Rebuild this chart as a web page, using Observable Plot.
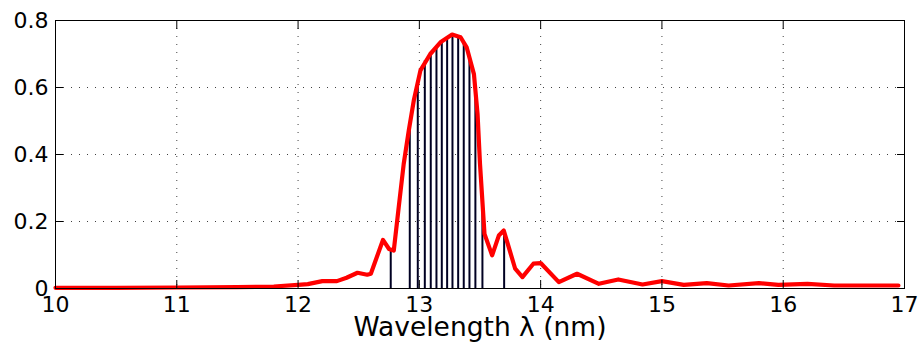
<!DOCTYPE html>
<html>
<head>
<meta charset="utf-8">
<script src="https://cdn.jsdelivr.net/npm/d3@7"></script>
<script src="https://cdn.jsdelivr.net/npm/@observablehq/plot@0.6"></script>
<style>
  html, body { margin: 0; padding: 0; background: #fff; }
  svg { font-family: "DejaVu Sans", sans-serif; }
</style>
</head>
<body>
<div id="chart"></div>
<script>
// Red spectrum curve (wavelength in nm, intensity)
const wavelength = [10, 10.5, 11, 11.5, 11.8, 12.0, 12.08, 12.2, 12.32, 12.4, 12.49, 12.57, 12.6, 12.7, 12.75, 12.789, 12.83, 12.871, 12.913, 12.954, 13.009, 13.09, 13.174, 13.27, 13.34, 13.39, 13.45, 13.48, 13.50, 13.537, 13.60, 13.655, 13.696, 13.79, 13.85, 13.94, 14.0, 14.15, 14.3, 14.48, 14.64, 14.84, 15.0, 15.18, 15.37, 15.55, 15.8, 15.96, 16.2, 16.42, 16.64, 16.95];
const intensity  = [0.002, 0.002, 0.003, 0.004, 0.006, 0.011, 0.013, 0.022, 0.022, 0.032, 0.047, 0.041, 0.044, 0.145, 0.118, 0.113, 0.243, 0.372, 0.472, 0.561, 0.651, 0.70, 0.735, 0.758, 0.75, 0.72, 0.64, 0.52, 0.372, 0.163, 0.099, 0.158, 0.173, 0.059, 0.034, 0.074, 0.076, 0.019, 0.044, 0.014, 0.027, 0.012, 0.022, 0.011, 0.016, 0.009, 0.016, 0.011, 0.014, 0.009, 0.009, 0.009];

// Black stems (line positions and heights)
const stemWavelength = [12.764, 12.921, 12.987, 13.045, 13.094, 13.141, 13.185, 13.229, 13.273, 13.320, 13.366, 13.413, 13.462, 13.520, 13.699];
const stemHeight     = [0.118, 0.49, 0.62, 0.68, 0.70, 0.72, 0.74, 0.75, 0.755, 0.75, 0.735, 0.69, 0.60, 0.26, 0.17];

const xTicks = [10, 11, 12, 13, 14, 15, 16, 17];
const xTickLabels = ["10", "11", "12", "13", "14", "15", "16", "17"];
const yTicks = [0, 0.2, 0.4, 0.6, 0.8];
const yTickLabels = ["0", "0.2", "0.4", "0.6", "0.8"];
const xLabel = "Wavelength λ (nm)";

const curve = wavelength.map((w, i) => ({w, v: intensity[i]}));
const stems = stemWavelength.map((w, i) => ({w, v: stemHeight[i]}));

const chart = Plot.plot({
  width: 920,
  height: 353,
  marginLeft: 55,
  marginRight: 16,
  marginTop: 20,
  marginBottom: 65,
  style: {fontFamily: "'DejaVu Sans', sans-serif", fontSize: "22px", color: "#000", background: "#fff"},
  x: {domain: [10, 17]},
  y: {domain: [0, 0.8]},
  marks: [
    Plot.gridX(xTicks.slice(1, -1), {stroke: "#000", strokeOpacity: 0.75, strokeDasharray: "1,7"}),
    Plot.gridY(yTicks.slice(1, -1), {stroke: "#000", strokeOpacity: 0.75, strokeDasharray: "1,7"}),
    Plot.ruleX(stems, {x: "w", y1: 0, y2: "v", stroke: "#000022", strokeWidth: 2}),
    Plot.line(curve, {x: "w", y: "v", stroke: "#ff0000", strokeWidth: 4.2, strokeLinejoin: "round", curve: "linear"}),
    Plot.frame({stroke: "#000", strokeWidth: 1}),
    Plot.axisX(xTicks, {anchor: "bottom", tickSize: 0, tickPadding: 8, fontSize: 22, tickFormat: (d, i) => xTickLabels[i], label: null}),
    Plot.axisX(xTicks, {anchor: "bottom", tickSize: -8, text: null, label: null}),
    Plot.axisX(xTicks, {anchor: "top", tickSize: -8, text: null, label: null}),
    Plot.axisY(yTicks, {anchor: "left", tickSize: 0, tickPadding: 7, fontSize: 22, tickFormat: (d, i) => yTickLabels[i], label: null}),
    Plot.axisY(yTicks, {anchor: "left", tickSize: -8, text: null, label: null}),
    Plot.axisY(yTicks, {anchor: "right", tickSize: -8, text: null, label: null}),
    Plot.text([xLabel], {frameAnchor: "bottom", dy: 47, fontSize: 26.5, text: d => d, fill: "#000"})
  ]
});
document.getElementById("chart").appendChild(chart);
</script>
</body>
</html>
